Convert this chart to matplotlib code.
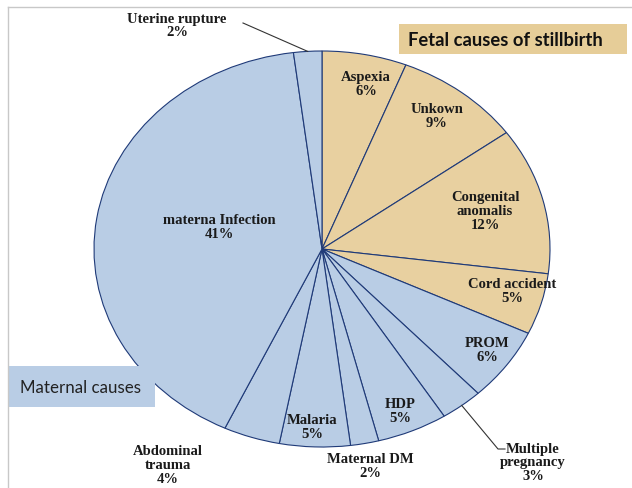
import matplotlib
matplotlib.use("Agg")
import matplotlib.pyplot as plt
from matplotlib.patches import Rectangle
from matplotlib.lines import Line2D
import numpy as np

# ---- data ----
causes = ["Aspexia", "Unkown", "Congenital\nanomalis", "Cord accident",
          "PROM", "Multiple\npregnancy", "HDP", "Maternal DM", "Malaria",
          "Abdominal\ntrauma", "materna Infection", "Uterine rupture"]
percent = [6, 9, 12, 5, 6, 3, 5, 2, 5, 4, 41, 2]
group = ["fetal"] * 4 + ["maternal"] * 8

W, H = 632, 489
fig = plt.figure(figsize=(W / 100, H / 100), dpi=100)

def fx(x):
    return x / W

def fy(y):
    return 1 - y / H

# pie axes (elliptical pie)
cx, cy, rx, ry = 322, 250, 228, 198
ax = fig.add_axes([fx(cx - rx), fy(cy + ry), 2 * rx / W, 2 * ry / H])
col = {"fetal": "#E8D0A0", "maternal": "#B9CDE5"}
wedges, _ = ax.pie(percent, startangle=90, counterclock=False,
                   colors=[col[g] for g in group],
                   wedgeprops=dict(edgecolor="#1F3A78", linewidth=0.8))
ax.set_aspect("auto")
ax.set_xlim(-1, 1)
ax.set_ylim(-1, 1)
ax.axis("off")

serif = dict(family="Liberation Serif", weight="bold", fontsize=10.5,
             color="#1a1a1a", ha="center", va="center", linespacing=1.1)

label_pos = {
    "Aspexia": (366, 85), "Unkown": (437, 117), "Congenital\nanomalis": (485, 212),
    "Cord accident": (512, 292), "PROM": (487, 351), "Multiple\npregnancy": (533, 463),
    "HDP": (400, 412), "Maternal DM": (370, 467), "Malaria": (312, 428),
    "Abdominal\ntrauma": (168, 466), "materna Infection": (219, 228),
    "Uterine rupture": (177, 26),
}
for name, p in zip(causes, percent):
    x, y = label_pos[name]
    fig.text(fx(x), fy(y), f"{name}\n{p}%", **serif)

# leader lines
cum = np.cumsum([0] + percent)
def edge_point(i):
    mid = (cum[i] + cum[i + 1]) / 2 / 100 * 360
    ang = np.deg2rad(90 - mid)
    disp = ax.transData.transform((np.cos(ang), np.sin(ang)))
    return fig.transFigure.inverted().transform(disp)

fig.canvas.draw()
i_ur = causes.index("Uterine rupture")
p = edge_point(i_ur)
fig.add_artist(Line2D([fx(243), p[0]], [fy(24), p[1]], color="#333333", lw=0.8))
i_mp = causes.index("Multiple\npregnancy")
p = edge_point(i_mp)
fig.add_artist(Line2D([p[0], fx(498), fx(505)], [p[1], fy(450), fy(450)],
                      color="#333333", lw=0.8))

# group boxes
fig.add_artist(Rectangle((fx(399), fy(55)), fx(627) - fx(399), fy(25) - fy(55),
                         transform=fig.transFigure, facecolor="#E6CD98",
                         edgecolor="none"))
fig.text(fx(408), fy(40), "Fetal causes of stillbirth", family="Lato",
         weight="bold", fontsize=13.2, color="#111111", ha="left", va="center")
fig.add_artist(Rectangle((fx(8), fy(408)), fx(155) - fx(8), fy(367) - fy(408),
                         transform=fig.transFigure, facecolor="#B9CDE5",
                         edgecolor="none"))
fig.text(fx(81), fy(388), "Maternal causes", family="Lato",
         fontsize=12.2, color="#222222", ha="center", va="center")

# picture frame
fig.add_artist(Line2D([fx(8), 1], [fy(8), fy(8)], color="#C8C8C8", lw=1))
fig.add_artist(Line2D([fx(8), fx(8)], [fy(8), 0], color="#C8C8C8", lw=1))

fig.savefig("out.png", dpi=100)
